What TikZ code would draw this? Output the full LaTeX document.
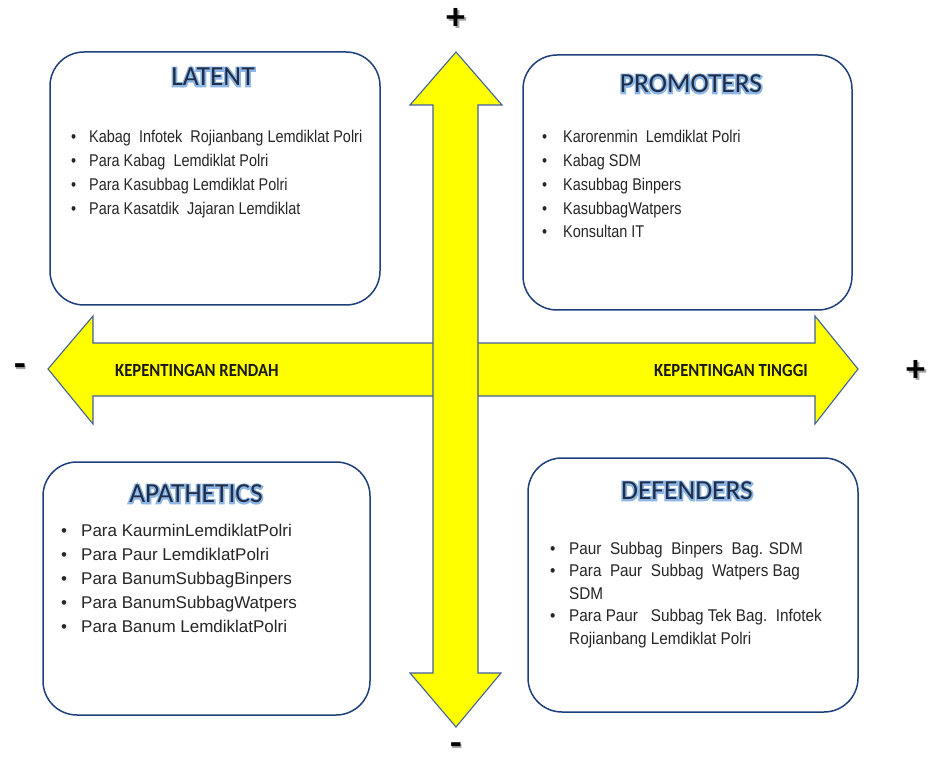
\documentclass[tikz,border=0pt]{standalone}
\usepackage{fontspec}
\usepackage{array}
\setmainfont{Liberation Sans}
\newfontfamily\bodyA[FakeStretch=0.85]{Liberation Sans}
\newfontfamily\bodyB{Liberation Sans}
\newfontfamily\bodyC[FakeStretch=0.9]{Liberation Sans}
\newfontfamily\titlefont{Carlito}
\newfontfamily\glowfont[FakeBold=12]{Carlito}
\newfontfamily\axisfont[FakeStretch=0.9]{Carlito}
\newfontfamily\signfont{Carlito}
\definecolor{boxline}{HTML}{1F3F7A}
\definecolor{arrowline}{HTML}{41619E}
\definecolor{arrowfill}{HTML}{FFFF00}
\definecolor{titlecol}{HTML}{1F2D48}
\definecolor{glowA}{HTML}{8DB6E4}
\definecolor{bodycol}{HTML}{262626}
\newcommand\glowtitle[1]{%
  \rlap{\glowfont\textcolor{glowA}{#1}}\textcolor{titlecol}{#1}}
\newcommand\shd[1]{\rlap{\hspace*{1.5pt}\raisebox{-1.5pt}{\textcolor{black!35}{#1}}}#1}
\tikzset{
  qbox/.style={draw=boxline, line width=1.5pt, rounded corners=34pt, fill=white, inner sep=0pt},
  bigarrow/.style={draw=arrowline, line width=1.1pt, fill=arrowfill, line join=miter},
  qtitle/.style={font=\titlefont\fontsize{27.5}{30}\selectfont, inner sep=0pt},
  qlist/.style={inner sep=0pt, anchor=base west, text=bodycol},
  axislabel/.style={font=\axisfont\bfseries\fontsize{18.5}{20}\selectfont, inner sep=0pt, text=black!90},
  sign/.style={font=\signfont\bfseries\fontsize{38}{40}\selectfont, inner sep=0pt}
}
\begin{document}
\begin{tikzpicture}[x=1pt, y=-1pt]
\useasboundingbox (0,0) rectangle (929,759);
% boxes
\node[qbox, minimum width=330pt, minimum height=253pt] (latent) at (215,178.5) {};
\node[qbox, minimum width=329pt, minimum height=255pt] (prom) at (687.5,182.5) {};
\node[qbox, minimum width=327pt, minimum height=253pt] (apat) at (206.5,588.5) {};
\node[qbox, minimum width=330pt, minimum height=254pt] (def) at (693,585) {};
% horizontal arrow
\path[bigarrow] (48,369) -- (93,316) -- (93,343) -- (815,343) -- (815,316) -- (858,369)
  -- (815,424) -- (815,396) -- (93,396) -- (93,424) -- cycle;
% vertical arrow
\path[bigarrow] (456,52) -- (502,105) -- (478,105) -- (478,673) -- (501,673) -- (456,727)
  -- (410,673) -- (433,673) -- (433,105) -- (410,105) -- cycle;
% axis labels
\node[axislabel, anchor=west] (lowlab) at (115,370.5) {KEPENTINGAN RENDAH};
\node[axislabel, anchor=east] (highlab) at (808,370) {KEPENTINGAN TINGGI};
% signs
\node[sign] (ptop) at (456,20) {\shd{+}};
\node[sign] (mleft) at (20,371) {\shd{-}};
\node[sign] (pright) at (916,372) {\shd{+}};
\node[sign] (mbottom) at (456,750) {\shd{-}};
% titles
\node[qtitle] (tlatent) at (213,77) {\glowtitle{LATENT}};
\node[qtitle] (tprom) at (691,84) {\glowtitle{PROMOTERS}};
\node[qtitle] (tapat) at (196,494) {\glowtitle{APATHETICS}};
\node[qtitle] (tdef) at (687,491) {\glowtitle{DEFENDERS}};
% lists
\node[qlist, font=\bodyA\fontsize{17}{24}\selectfont] (llatent) at (71,143) {%
\begin{tabular}[t]{@{}p{18pt}@{}l@{}}
\textbullet & Kabag\ \ Infotek\ \ Rojianbang Lemdiklat Polri\\
\textbullet & Para Kabag\ \ Lemdiklat Polri\\
\textbullet & Para Kasubbag Lemdiklat Polri\\
\textbullet & Para Kasatdik\ \ Jajaran Lemdiklat
\end{tabular}};
\node[qlist, font=\bodyA\fontsize{17}{23.7}\selectfont] (lprom) at (542,143) {%
\begin{tabular}[t]{@{}p{21pt}@{}l@{}}
\textbullet & Karorenmin\ \ Lemdiklat Polri\\
\textbullet & Kabag SDM\\
\textbullet & Kasubbag Binpers\\
\textbullet & KasubbagWatpers\\
\textbullet & Konsultan IT
\end{tabular}};
\node[qlist, font=\bodyB\fontsize{17}{24}\selectfont] (lapat) at (61,536) {%
\begin{tabular}[t]{@{}p{20pt}@{}l@{}}
\textbullet & Para KaurminLemdiklatPolri\\
\textbullet & Para Paur LemdiklatPolri\\
\textbullet & Para BanumSubbagBinpers\\
\textbullet & Para BanumSubbagWatpers\\
\textbullet & Para Banum LemdiklatPolri
\end{tabular}};
\node[qlist, font=\bodyC\fontsize{17}{22.5}\selectfont] (ldef) at (550,554) {%
\begin{tabular}[t]{@{}p{19pt}@{}l@{}}
\textbullet & Paur\ \ Subbag\ \ Binpers\ \ Bag. SDM\\
\textbullet & Para\ \ Paur\ \ Subbag\ \ Watpers Bag\\
 & SDM\\
\textbullet & Para Paur\ \ \ Subbag Tek Bag.\ \ Infotek\\
 & Rojianbang Lemdiklat Polri
\end{tabular}};
\end{tikzpicture}
\end{document}
